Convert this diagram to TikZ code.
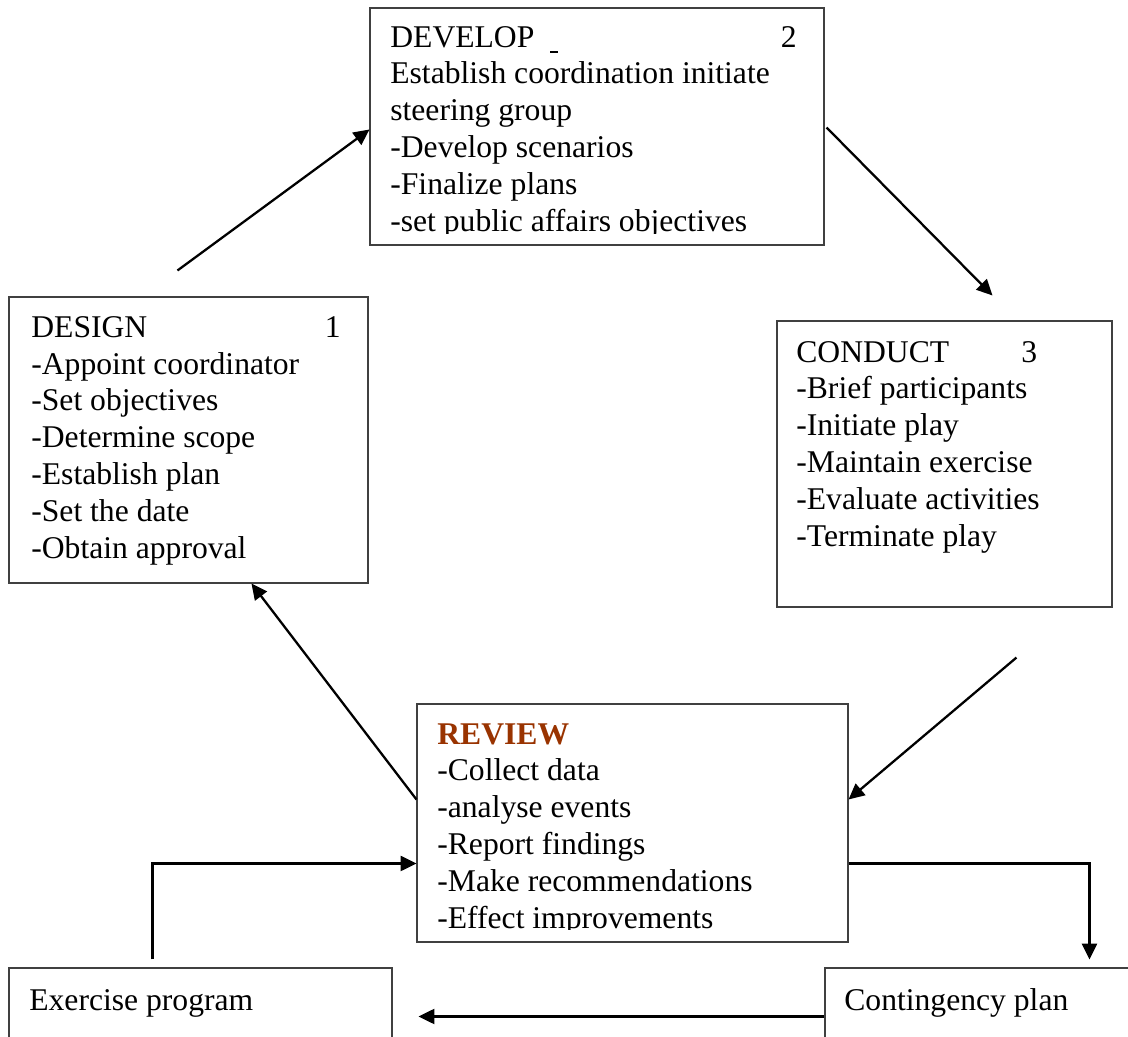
\documentclass[tikz,border=0pt]{standalone}
\usepackage{fontspec}
\setmainfont{Liberation Serif}
\usepackage{xcolor}
\usetikzlibrary{arrows.meta,fit,calc}
\definecolor{reviewbrown}{RGB}{153,51,0}
\definecolor{framegray}{RGB}{64,64,64}

\begin{document}
\begin{tikzpicture}[x=0.02cm, y=-0.02cm,
  box/.style={draw=framegray, line width=0.6pt, inner sep=0pt},
  txt/.style={anchor=base west, inner sep=0pt, align=left, font=\fontsize{18}{21}\selectfont},
  flow/.style={-{Triangle[length=9pt,width=8.5pt]}, line width=1.3pt}]
\useasboundingbox (0,0) rectangle (1128,1036);
\clip (0,0) rectangle (1128,1036);
% boxes
\node[box, fit={(9,297) (368,583)}] (design) {};
\node[box, fit={(370,8) (824,245)}] (develop) {};
\node[box, fit={(777,321) (1112,607)}] (conduct) {};
\node[box, fit={(417,704) (848,942)}] (review) {};
\node[box, fit={(9,968) (392,1070)}] (exprog) {};
\node[box, fit={(825,968) (1150,1070)}] (contplan) {};
% texts (anchored at the baseline of the last line)
\node[txt] (designtxt) at (31,558.5) {\makebox[5.87cm][l]{DESIGN}1\\-Appoint coordinator\\-Set objectives\\-Determine scope\\-Establish plan\\-Set the date\\-Obtain approval};
\begin{scope}
\clip (develop.north west) rectangle ($(develop.north east)+(0,226)$);
\node[txt] (developtxt) at (390,231.5) {\makebox[7.81cm][l]{DEVELOP\hspace{0.5em}\rule[-0.19em]{0.25em}{0.07em}}2\\Establish coordination initiate\\steering group\\-Develop scenarios\\-Finalize plans\\-set public affairs objectives};
\end{scope}
\node[txt] (conducttxt) at (796,546.5) {\makebox[4.5cm][l]{CONDUCT}3\\-Brief participants\\-Initiate play\\-Maintain exercise\\-Evaluate activities\\-Terminate play};
\begin{scope}
\clip (review.north west) rectangle ($(review.north east)+(0,226)$);
\node[txt] (reviewtxt) at (437,928.5) {\textbf{\color{reviewbrown}REVIEW}\\-Collect data\\-analyse events\\-Report findings\\-Make recommendations\\-Effect improvements};
\end{scope}
\node[txt] (exprogtxt) at (29,1010) {Exercise program};
\node[txt] (contplantxt) at (844,1010) {Contingency plan};
% cycle arrows
\draw[flow] ($(design.north west)+(169,-26)$) -- ($(develop.north west)+(0,122)$);
\draw[flow] ($(develop.north east)+(2,120)$) -- ($(conduct.north west)+(216,-25)$);
\draw[flow] ($(conduct.south west)+(240,50)$) -- ($(review.north east)+(0,96)$);
\draw[flow] ($(review.north west)+(0,96)$) -- ($(design.south west)+(243,0)$);
% program loop
\draw[flow] ($(exprog.north west)+(144,-8)$) |- ($(review.north west)+(0,160)$);
\draw[flow] ($(review.north east)+(0,160)$) -| ($(contplan.north west)+(265,-8)$);
\draw[flow] ($(contplan.north west)+(0,49)$) -- ($(exprog.north east)+(26,49)$);
\end{tikzpicture}
\end{document}
